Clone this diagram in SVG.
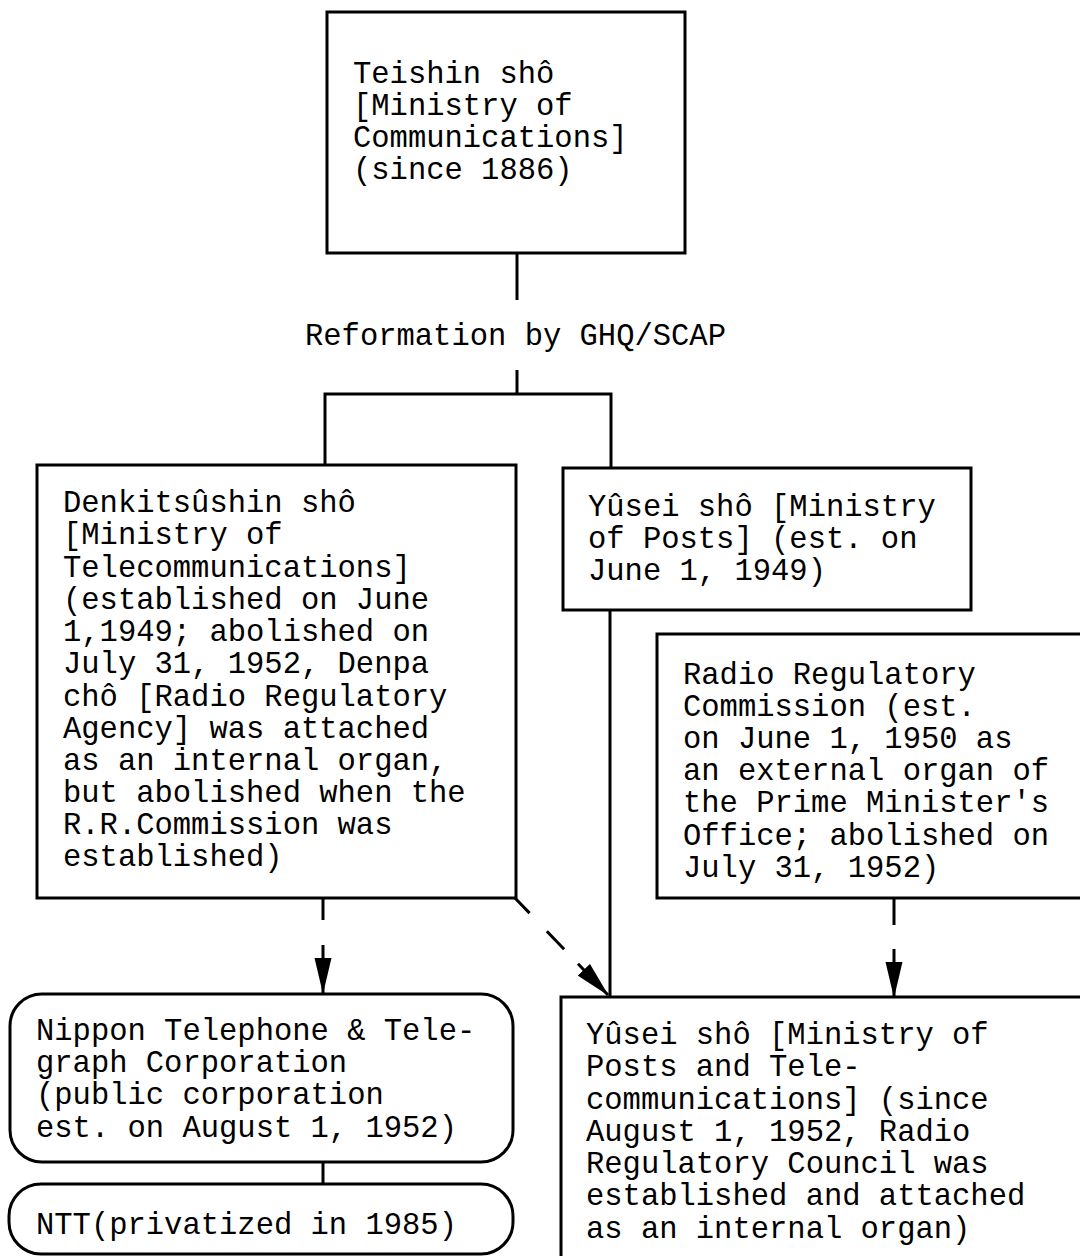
<svg xmlns="http://www.w3.org/2000/svg" width="1080" height="1256" viewBox="0 0 1080 1256">
<style>
.box{fill:#fff;stroke:#000;stroke-width:3}
.ln{fill:none;stroke:#000;stroke-width:3}
text{font-family:"Liberation Mono","Courier New",monospace;font-size:30.5px;fill:#000}
</style>
<defs>
<marker id="ah" markerUnits="userSpaceOnUse" markerWidth="36" markerHeight="18" viewBox="0 0 34 16" refX="33" refY="8" orient="auto">
<path d="M0,0 L34,8 L0,16 Z" fill="#000"/>
</marker>
</defs>
<rect width="1080" height="1256" fill="#fff"/>
<g id="connectors">
<path class="ln" d="M517 253 V300"/>
<path class="ln" d="M517 370 V394 M325 465 V394 H611 V467"/>
<path class="ln" d="M610 610 V997"/>
<path class="ln" d="M323 898 V993" stroke-dasharray="22 25 200" marker-end="url(#ah)"/>
<path class="ln" d="M515 898 L608 995" stroke-dasharray="21 25 25 20 200" marker-end="url(#ah)"/>
<path class="ln" d="M894 898 V997" stroke-dasharray="27 24 200" marker-end="url(#ah)"/>
<path class="ln" d="M323 1162 V1184"/>
</g>
<text x="305" y="345">Reformation by GHQ/SCAP</text>
<g id="teishin">
<rect class="box" x="327" y="12" width="358" height="241"/>
<text x="353" y="83">Teishin shô</text>
<text x="353" y="115">[Ministry of</text>
<text x="353" y="147">Communications]</text>
<text x="353" y="179">(since 1886)</text>
</g>
<g id="denki">
<rect class="box" x="37" y="465" width="479" height="433"/>
<text x="63" y="512">Denkitsûshin shô</text>
<text x="63" y="544">[Ministry of</text>
<text x="63" y="577">Telecommunications]</text>
<text x="63" y="609">(established on June</text>
<text x="63" y="641">1,1949; abolished on</text>
<text x="63" y="673">July 31, 1952, Denpa</text>
<text x="63" y="706">chô [Radio Regulatory</text>
<text x="63" y="738">Agency] was attached</text>
<text x="63" y="770">as an internal organ,</text>
<text x="63" y="802">but abolished when the</text>
<text x="63" y="834">R.R.Commission was</text>
<text x="63" y="866">established)</text>
</g>
<g id="yusei">
<rect class="box" x="563" y="468" width="408" height="142"/>
<text x="588" y="516">Yûsei shô [Ministry</text>
<text x="588" y="548">of Posts] (est. on</text>
<text x="588" y="580">June 1, 1949)</text>
</g>
<g id="radio">
<rect class="box" x="657" y="634" width="440" height="264"/>
<text x="683" y="684">Radio Regulatory</text>
<text x="683" y="716">Commission (est.</text>
<text x="683" y="748">on June 1, 1950 as</text>
<text x="683" y="780">an external organ of</text>
<text x="683" y="812">the Prime Minister's</text>
<text x="683" y="845">Office; abolished on</text>
<text x="683" y="877">July 31, 1952)</text>
</g>
<g id="nttpc">
<rect class="box" x="10" y="994" width="503" height="168" rx="32"/>
<text x="36" y="1040">Nippon Telephone &amp; Tele-</text>
<text x="36" y="1072">graph Corporation</text>
<text x="36" y="1104">(public corporation</text>
<text x="36" y="1137">est. on August 1, 1952)</text>
</g>
<g id="ntt">
<rect class="box" x="9" y="1184" width="504" height="70" rx="32"/>
<text x="36" y="1234">NTT(privatized in 1985)</text>
</g>
<g id="mpt">
<rect class="box" x="561" y="997" width="540" height="280"/>
<text x="586" y="1044">Yûsei shô [Ministry of</text>
<text x="586" y="1076">Posts and Tele-</text>
<text x="586" y="1109">communications] (since</text>
<text x="586" y="1141">August 1, 1952, Radio</text>
<text x="586" y="1173">Regulatory Council was</text>
<text x="586" y="1205">established and attached</text>
<text x="586" y="1238">as an internal organ)</text>
</g>
</svg>
